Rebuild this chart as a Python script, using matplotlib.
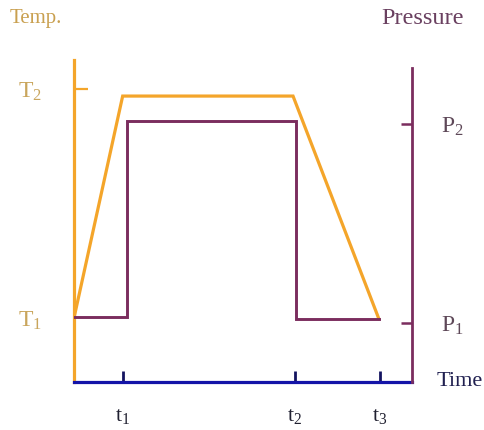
import matplotlib
matplotlib.use("Agg")
from matplotlib import pyplot as plt

plt.rcParams["font.family"] = ["Liberation Serif", "DejaVu Serif"]
plt.rcParams["mathtext.fontset"] = "custom"
plt.rcParams["mathtext.rm"] = "Liberation Serif"
plt.rcParams["mathtext.default"] = "rm"

# time axis runs 0..10, temperature / pressure axes 0..100 (arbitrary units)
time_temp = [0.0, 1.44, 6.48, 9.02]
temp = [19.9, 88.8, 88.8, 19.6]
time_press = [0.0, 1.57, 1.57, 6.57, 6.57, 9.02]
press = [20.2, 20.2, 81.1, 81.1, 19.6, 19.6]

time_ticks = [1.45, 6.54, 9.05]
time_labels = ["t$_1$", "t$_2$", "t$_3$"]
temp_ticks = [19.9, 91.0]
temp_labels = ["T$_1$", "T$_2$"]
press_ticks = [18.3, 80.1]
press_labels = ["P$_1$", "P$_2$"]

orange = "#f4a52a"
purple = "#7b2d5e"
blue = "#1414a8"

fig = plt.figure(figsize=(4.85, 4.30), dpi=100)
ax = fig.add_axes([74 / 485, 48 / 430, 338 / 485, 322 / 430])
ax2 = ax.twinx()

ax.plot(time_temp, temp, color=orange, lw=2.3, solid_joinstyle="miter", zorder=3)
ax2.plot(time_press, press, color=purple, lw=2.1, solid_joinstyle="miter", zorder=2)

for a in (ax, ax2):
    a.set_xlim(0, 10)
    a.set_ylim(0, 100)
    a.spines["top"].set_visible(False)
ax.spines["right"].set_visible(False)
ax2.spines["left"].set_visible(False)
ax2.spines["bottom"].set_visible(False)
ax.spines["left"].set_color(orange)
ax.spines["left"].set_linewidth(2.3)
ax.spines["bottom"].set_color(blue)
ax.spines["bottom"].set_linewidth(2.3)
ax2.spines["right"].set_color(purple)
ax2.spines["right"].set_linewidth(2.0)
ax2.spines["right"].set_bounds(0, 97.5)

ax.set_xticks(time_ticks, time_labels, fontsize=16, color="#202030")
ax.tick_params(axis="x", direction="in", length=8, width=2, color="#141460", pad=18)
ax.set_yticks(temp_ticks, temp_labels, fontsize=17, color="#c9a55c")
ax.tick_params(axis="y", direction="in", length=10, width=1.6, color=orange, pad=23)
ax.yaxis.get_major_ticks()[0].tick1line.set_visible(False)
ax2.set_yticks(press_ticks, press_labels, fontsize=17, color="#5e4858")
ax2.tick_params(axis="y", direction="in", length=8, width=1.8, color=purple, pad=21)

ax.annotate("Time", xy=(1, 0), xycoords="axes fraction", xytext=(18, 0),
            textcoords="offset points", ha="left", va="center", fontsize=16, color="#202050")
fig.text(10 / 485, 1 - 19 / 430, "Temp.", fontsize=15, color="#c9a050", va="center", ha="left")
fig.text(381 / 485, 1 - 19 / 430, "Pressure", fontsize=17.5, color="#6a4060", va="center", ha="left")

plt.savefig("out.png", dpi=100)
